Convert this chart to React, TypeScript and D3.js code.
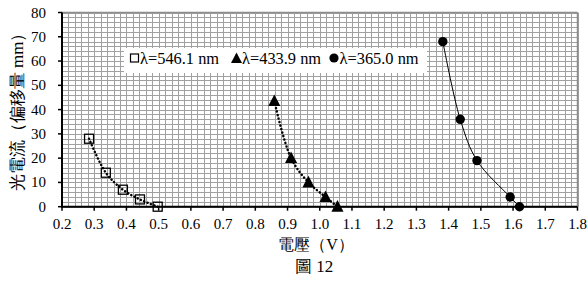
import React from "react";
import * as d3 from "d3";

const xTicks = [0.2, 0.3, 0.4, 0.5, 0.6, 0.7, 0.8, 0.9, 1.0, 1.1, 1.2, 1.3, 1.4, 1.5, 1.6, 1.7, 1.8];
const yTicks = [0, 10, 20, 30, 40, 50, 60, 70, 80];

const greenV = [0.284, 0.336, 0.389, 0.442, 0.497];
const greenI = [28, 14, 7, 3, 0];
const blueV = [0.859, 0.911, 0.965, 1.018, 1.055];
const blueI = [43.5, 20, 10, 4, 0];
const uvV = [1.382, 1.436, 1.488, 1.591, 1.62];
const uvI = [68, 36, 19, 4, 0];

const legendLabels = ["λ=546.1 nm", "λ=433.9 nm", "λ=365.0 nm"];
const yTitle = "光電流（偏移量 mm）";
const xTitle = "電壓（V）";
const caption = "圖 12";

const W = 588;
const H = 281;
const L = 62, R = 577.5, T = 12.5, B = 206.7;
const FF = "Liberation Serif";

export default function App() {
  const x = d3.scaleLinear().domain([0.2, 1.8]).range([L, R]);
  const y = d3.scaleLinear().domain([0, 80]).range([B, T]);
  const minorX = d3.range(0, 81).map((i) => 0.2 + i * 0.02);
  const minorY = d3.range(0, 41).map((i) => i * 2);

  const line = d3
    .line<[number, number]>()
    .x((d) => x(d[0]))
    .y((d) => y(d[1]))
    .curve(d3.curveCatmullRom.alpha(0.5));

  const pts = (vs: number[], is: number[]) => vs.map((v, i) => [v, is[i]] as [number, number]);
  const g = pts(greenV, greenI);
  const b = pts(blueV, blueI);
  const u = pts(uvV, uvI);

  const tri = (cx: number, cy: number, s: number) =>
    `M${cx},${cy - s * 0.6}L${cx + s * 0.55},${cy + s * 0.45}L${cx - s * 0.55},${cy + s * 0.45}Z`;

  const ts = (size: number) => ({ fontFamily: FF, fontSize: size + "px" });

  return (
    <svg width={W} height={H} style={{ position: "fixed", left: 0, top: 0, background: "#fff" }}>
      <rect x={0} y={0} width={W} height={H} fill="#fff" />
      {/* grid */}
      <g stroke="#a0a0a0" strokeWidth={1}>
        {minorX.map((v, i) => (
          <line key={"gx" + i} x1={Math.round(x(v)) + 0.5} x2={Math.round(x(v)) + 0.5} y1={T} y2={B} />
        ))}
        {minorY.map((v, i) => (
          <line key={"gy" + i} x1={L} x2={R} y1={Math.round(y(v)) + 0.5} y2={Math.round(y(v)) + 0.5} />
        ))}
      </g>
      {/* border */}
      <line x1={L} x2={R} y1={T} y2={T} stroke="#8c8c8c" strokeWidth={1.5} />
      <line x1={R} x2={R} y1={T} y2={B} stroke="#8c8c8c" strokeWidth={1.5} />
      {/* legend */}
      <rect x={124} y={48} width={303} height={25} fill="#fff" />
      <rect x={130.5} y={54} width={8} height={8} fill="none" stroke="#000" strokeWidth={1.2} />
      <path d={tri(236.5, 58.5, 10)} fill="#000" />
      <circle cx={334} cy={58} r={4.6} fill="#000" />
      <text x={140} y={63.5} style={ts(16.4)} fill="#000">{legendLabels[0]}</text>
      <text x={242} y={63.5} style={ts(16.4)} fill="#000">{legendLabels[1]}</text>
      <text x={339.5} y={63.5} style={ts(16.4)} fill="#000">{legendLabels[2]}</text>
      {/* series lines */}
      <path d={line(g) || ""} fill="none" stroke="#000" strokeWidth={2.5} strokeDasharray="0.1 3.5" strokeLinecap="round" />
      <path d={line(b) || ""} fill="none" stroke="#000" strokeWidth={2.5} strokeDasharray="0.1 3.5" strokeLinecap="round" />
      <path d={line(u) || ""} fill="none" stroke="#000" strokeWidth={1} />
      {/* markers */}
      {g.map((d, i) => (
        <rect key={"s" + i} x={x(d[0]) - 4.5} y={y(d[1]) - 4.5} width={9} height={9} fill="none" stroke="#000" strokeWidth={1.3} />
      ))}
      {b.map((d, i) => (
        <path key={"t" + i} d={tri(x(d[0]), y(d[1]), 11)} fill="#000" />
      ))}
      {u.map((d, i) => (
        <circle key={"c" + i} cx={x(d[0])} cy={y(d[1])} r={4.7} fill="#000" />
      ))}
      {/* axes */}
      <line x1={L} x2={R} y1={B} y2={B} stroke="#000" strokeWidth={2} />
      <line x1={L} x2={L} y1={T} y2={B + 1} stroke="#000" strokeWidth={2} />
      {xTicks.map((v) => (
        <line key={"xt" + v} x1={x(v)} x2={x(v)} y1={B} y2={B + 4} stroke="#000" strokeWidth={1.5} />
      ))}
      {yTicks.map((v) => (
        <line key={"yt" + v} x1={L - 4} x2={L} y1={y(v)} y2={y(v)} stroke="#000" strokeWidth={1.5} />
      ))}
      {xTicks.map((v) => (
        <text key={"xl" + v} x={x(v)} y={229} textAnchor="middle" style={ts(15)} fill="#000">
          {v.toFixed(1)}
        </text>
      ))}
      {yTicks.map((v) => (
        <text key={"yl" + v} x={46} y={y(v) + 5} textAnchor="end" style={ts(15)} fill="#000">
          {v}
        </text>
      ))}
      <text transform="translate(23,108) rotate(-90)" textAnchor="middle" style={ts(17)} fill="#000">
        {yTitle}
      </text>
      <text x={316} y={250} textAnchor="middle" style={ts(16)} fill="#000">
        {xTitle}
      </text>
      <text x={314} y={272} textAnchor="middle" style={ts(17)} fill="#000">
        {caption}
      </text>
    </svg>
  );
}
